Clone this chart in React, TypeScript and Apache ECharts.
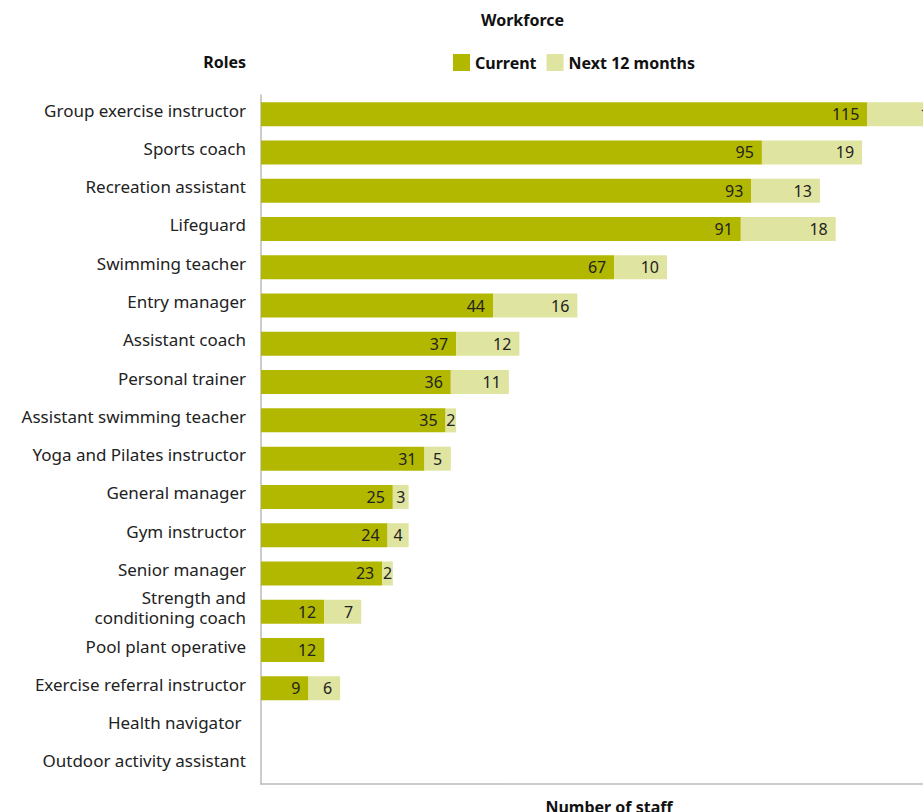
import React, { useEffect, useRef } from "react";
import * as echarts from "echarts";

const roles = [
  "Group exercise instructor",
  "Sports coach",
  "Recreation assistant",
  "Lifeguard",
  "Swimming teacher",
  "Entry manager",
  "Assistant coach",
  "Personal trainer",
  "Assistant swimming teacher",
  "Yoga and Pilates instructor",
  "General manager",
  "Gym instructor",
  "Senior manager",
  "Strength and\nconditioning coach",
  "Pool plant operative",
  "Exercise referral instructor",
  "Health navigator ",
  "Outdoor activity assistant",
];
const current = [115, 95, 93, 91, 67, 44, 37, 36, 35, 31, 25, 24, 23, 12, 12, 9, null, null];
const next12 = [15, 19, 13, 18, 10, 16, 12, 11, 2, 5, 3, 4, 2, 7, null, 6, null, null];

const FONT = "'Noto Sans', sans-serif";

export default function App() {
  const ref = useRef<HTMLDivElement>(null);
  useEffect(() => {
    if (!ref.current) return;
    const chart = echarts.init(ref.current, undefined, { renderer: "svg" });
    const baseLabel = {
      show: true,
      color: "#222",
      fontSize: 16,
      fontFamily: FONT,
      formatter: (p: any) => (p.value ? String(p.value) : ""),
    };
    const toItems = (arr: (number | null)[]) =>
      arr.map((v) => ({
        value: v,
        label:
          v !== null && v <= 5
            ? { ...baseLabel, position: "inside" }
            : { ...baseLabel, position: "insideRight", distance: 8 },
      }));
    chart.setOption({
      animation: false,
      textStyle: { fontFamily: FONT },
      graphic: [
        {
          type: "text",
          left: 481,
          top: 12,
          style: { text: "Workforce", font: `bold 16px ${FONT}`, fill: "#111" },
        },
        {
          type: "text",
          x: 246,
          y: 62,
          style: {
            text: "Roles",
            font: `bold 16px ${FONT}`,
            fill: "#111",
            textAlign: "right",
            textVerticalAlign: "middle",
          },
        },
      ],
      legend: {
        left: 448,
        top: 49,
        icon: "rect",
        itemWidth: 17,
        itemHeight: 17,
        itemGap: 10,
        textStyle: { fontSize: 16, fontWeight: "bold", color: "#111", fontFamily: FONT },
        data: ["Current", "Next 12 months"],
      },
      grid: { left: 261, top: 95, width: 696, height: 689, containLabel: false },
      xAxis: {
        type: "value",
        min: 0,
        max: 132,
        axisLabel: { show: false },
        axisTick: { show: false },
        splitLine: { show: false },
        axisLine: { show: true, lineStyle: { color: "#bbb", width: 1.5 } },
        name: "Number of staff",
        nameLocation: "middle",
        nameGap: 15,
        nameTextStyle: { fontSize: 16, fontWeight: "bold", color: "#111", fontFamily: FONT },
      },
      yAxis: {
        type: "category",
        inverse: true,
        data: roles,
        axisTick: { show: false },
        axisLine: { show: true, lineStyle: { color: "#bbb", width: 1.5 } },
        axisLabel: {
          margin: 15,
          formatter: (v: string) =>
            v
              .split("\n")
              .map((s) => `{a|${s}}`)
              .join("\n"),
          rich: {
            a: {
              fontSize: 17,
              color: "#222",
              lineHeight: 20,
              fontFamily: FONT,
              padding: [0, 0, 8, 0],
            },
          },
        },
      },
      series: [
        {
          name: "Current",
          type: "bar",
          stack: "total",
          barWidth: 24,
          data: toItems(current),
          itemStyle: { color: "#b2b800" },
        },
        {
          name: "Next 12 months",
          type: "bar",
          stack: "total",
          barWidth: 24,
          data: toItems(next12),
          itemStyle: { color: "#dfe4a0" },
        },
      ],
    });
    return () => chart.dispose();
  }, []);
  return (
    <div style={{ position: "fixed", left: 0, top: 0, width: 923, height: 812, overflow: "hidden", background: "#fff" }}>
      <div ref={ref} style={{ width: 980, height: 830 }} />
    </div>
  );
}
